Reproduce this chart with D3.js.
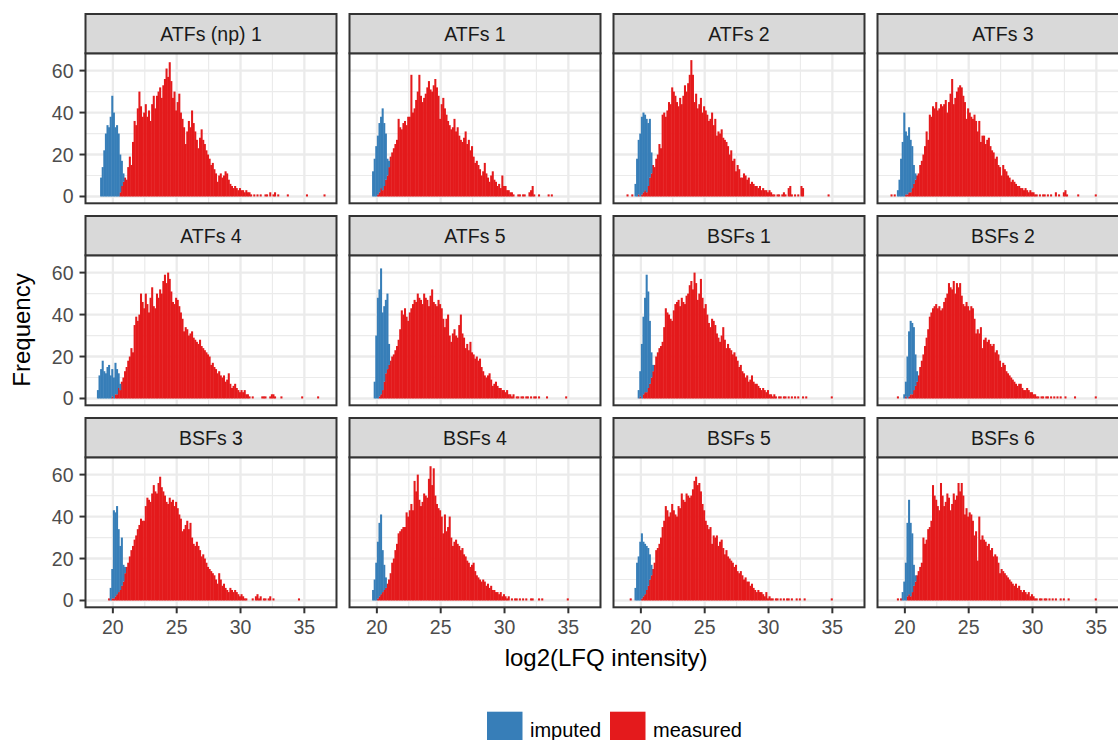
<!DOCTYPE html>
<html>
<head>
<meta charset="utf-8">
<script src="https://cdn.jsdelivr.net/npm/d3@7"></script>
<style>
  body { margin: 0; background: #fff; }
  svg { display: block; font-family: "Liberation Sans", Arial, sans-serif; }
</style>
</head>
<body>
<div id="chart"></div>
<script>
// histogram bins are 0.125 wide; each series lists counts from its own start value
const binWidth = 0.125;

const panelNames = ["ATFs (np) 1", "ATFs 1", "ATFs 2", "ATFs 3",
                    "ATFs 4", "ATFs 5", "BSFs 1", "BSFs 2",
                    "BSFs 3", "BSFs 4", "BSFs 5", "BSFs 6"];

const imputedStarts  = [19.0, 19.625, 19.5, 19.375, 18.75, 19.75, 19.75, 19.875, 19.75, 19.625, 19.5, 19.75];
const measuredStarts = [20.5, 20.0, 18.875, 18.875, 19.875, 20.125, 19.875, 19.375, 19.625, 20.0, 19.125, 19.375];

const imp01 = [9,14,22,30,34,33,38,48,40,33,34,30,18,12,4];
const imp02 = [12,18,24,28,33,34,39,30,22,8,3];
const imp03 = [6,18,26,30,37,38,36,35,30,28,10];
const imp04 = [3,8,18,26,40,30,28,31,25,20,9,3];
const imp05 = [4,11,14,18,13,12,15,16,11,13,10,15,12,7,3];
const imp06 = [8,30,48,51,60,37,36,35,36,10];
const imp07 = [4,12,26,37,45,56,46,30,12,3];
const imp08 = [2,7,20,31,35,34,30,15,5];
const imp09 = [6,14,42,40,42,30,21,23,8,3];
const imp10 = [5,10,18,27,35,38,20,12,5];
const imp11 = [6,18,21,28,31,26,24,21,18,12,5];
const imp12 = [4,9,18,35,45,35,28,10,3];

const meas01 = [2,5,7,9,8,14,19,15,26,36, 34,42,50,43,38,40,44,38,41,36, 44,48,42,48,50,52,47,53,56,61,
  57,64,55,47,50,41,45,49,40,37, 33,25,31,36,33,41,35,31,27,23, 28,32,27,25,22,20,18,15,16,13,
  11,7,10,11,9,10,12,11,8,6, 5,4,5,4,3,4,3,3,2,3, 2,2,1,0,1,0,1,0,1,0, 0,1,1,0,2,0,1,2,0,1,
  0,0,0,0,0,1,0,0,0,0, 0,0,0,0,0,0,0,1,0,0, 0,0,0,0,0,0,0,0,1];
const meas02 = [1,2,4,3,5,8,10,14,19,21, 23,25,27,37,33,32,35,36,34,38, 38,58,40,42,46,50,58,48,45,47,
  49,52,55,51,50,53,56,52,48,37, 44,47,42,39,36,34,32,33,37,31, 33,29,27,26,28,31,25,27,22,24,
  19,16,17,15,13,10,12,16,11,9, 7,10,12,8,7,5,6,4,10,5, 5,3,3,2,2,1,0,0,1,1,
  0,1,1,0,0,2,3,5,1,0, 0,1,0,0,0,0,0,1,0,1];
const meas03 = [1,0,0,1,0,0,0,1,0,1, 2,3,2,5,9,11,15,14,18,20, 25,23,39,40,38,41,45,44,52,50,
  48,45,43,47,44,48,53,50,54,58, 65,58,45,49,42,44,47,40,43,41, 39,36,37,40,34,37,29,31,30,32,
  28,27,26,24,20,22,17,18,12,15, 13,9,9,11,10,8,9,6,7,6, 5,5,4,5,3,4,3,3,2,3,
  2,1,1,0,1,1,0,1,2,1, 0,4,5,1,0,1,0,1,0,5, 4,0,0,0,0,0,0,0,0,0, 0,0,0,0,0,0,1];
const meas04 = [1,0,1,0,0,0,0,0,0,1, 1,2,2,4,6,8,10,11,15,17, 20,24,31,27,39,38,43,42,45,41,
  42,44,43,44,46,40,45,49,56,44, 47,50,52,53,52,48,45,37,42,40, 38,37,39,36,31,36,26,29,29,25,
  27,28,24,22,21,18,19,15,14,10, 15,13,12,10,9,7,8,7,6,5, 5,4,4,3,4,3,2,3,2,2,
  1,1,0,1,0,1,1,0,1,0, 1,0,0,2,0,1,0,0,2,3, 1,0,0,0,0,0,0,1,0,0, 0,0,0,0,0,0,0,0,1];
const meas05 = [1,0,2,2,5,4,8,10,13,15, 18,20,24,22,35,39,37,40,50,46, 43,50,45,41,48,53,44,43,50,48,
  52,50,56,59,55,60,57,51,46,45, 48,47,44,41,38,32,34,33,30,31, 32,29,28,27,26,28,25,24,23,22,
  21,20,16,17,15,14,12,13,11,10, 11,8,9,12,7,5,6,7,5,4, 3,4,3,4,2,2,1,0,1,0,
  0,0,0,0,1,1,1,0,0,1, 2,2,1,0,0,0,1,0,0,0, 0,0,0,0,0,0,0,0,0,1, 0,0,0,0,0,0,0,0,0,1];
const meas06 = [1,2,4,8,12,14,16,18,20,21, 23,25,28,33,42,40,43,39,37,41, 43,45,47,46,50,48,47,45,50,48,
  47,44,49,52,46,45,44,47,45,43, 38,34,38,40,30,27,31,33,30,29, 35,40,31,29,24,26,23,27,22,21,
  19,20,18,19,15,13,11,10,11,12, 9,6,7,8,6,5,5,4,4,3, 4,2,2,1,2,0,1,1,0,1,
  1,0,1,1,0,1,0,1,1,0, 1,0,0,0,0,1,0,0,0,0, 0,0,0,0,0,0,0,1];
const meas07 = [1,0,2,3,3,5,7,10,13,16, 20,22,24,25,27,34,43,41,40,38, 37,42,45,46,47,44,48,46,45,49,
  50,54,56,52,60,55,47,50,57,48, 43,45,40,36,34,38,37,35,31,29, 27,30,34,28,24,26,24,23,21,22,
  20,18,15,16,13,12,10,11,8,9, 11,8,7,7,6,5,4,5,4,3, 4,2,2,1,2,1,0,1,1,0,
  1,1,0,1,0,1,0,1,0,1, 0,0,1,0,1,0,0,0,0,0, 0,0,0,0,0,0,0,0,0,0, 1];
const meas08 = [1,0,0,0,0,1,0,1,2,2, 4,6,8,11,15,18,21,25,29,33, 39,41,43,44,45,43,44,42,43,46,
  48,50,55,53,52,56,50,55,53,55, 49,45,44,46,44,42,44,43,38,31, 33,31,34,24,28,29,27,28,26,25,
  26,22,23,21,18,15,17,16,13,12, 11,10,9,8,7,6,7,7,5,4, 4,5,4,3,3,2,2,1,1,0,
  1,1,0,1,1,0,1,0,1,0, 1,0,1,0,0,1,0,0,0,0, 0,1,0,0,0,0,0,0,0,0, 0,0,0,0,1];
const meas09 = [1,0,1,1,2,3,4,5,7,9, 13,16,18,21,24,26,29,31,34,36, 39,38,38,45,49,48,47,51,55,52,
  51,56,59,54,52,50,47,46,49,47, 48,45,47,44,41,39,33,34,36,38, 34,37,30,27,26,28,26,24,21,22,
  20,18,16,15,14,13,12,10,8,13, 10,7,8,6,5,4,6,5,4,5, 4,3,2,3,2,1,1,0,0,0,
  1,0,2,3,1,2,0,1,1,0, 1,2,0,1,0,0,0,0,0,0, 0,0,0,0,0,0,0,0,0,1];
const meas10 = [1,2,3,4,5,6,8,10,13,18, 20,24,27,32,33,34,35,35,42,40, 43,46,43,57,52,60,48,45,47,51,
  50,49,58,64,55,63,50,46,44,43, 40,32,41,33,35,40,30,26,28,29, 27,26,24,25,22,21,19,18,16,17,
  18,14,12,11,10,9,10,9,7,8, 6,7,5,5,4,4,3,4,2,3, 2,1,2,0,1,0,1,1,0,1,
  0,1,0,1,0,0,1,1,0,0, 0,1,0,1,0,0,0,0,0,0, 0,0,0,0,0,0,0,0,0,1];
const meas11 = [1,0,0,0,0,0,0,1,2,3, 5,7,10,12,15,18,24,25,27,30, 35,38,45,43,40,42,46,43,41,40,
  45,44,51,48,47,51,50,49,50,53, 57,59,55,56,52,46,43,38,36,34, 35,27,31,30,31,26,28,29,25,22,
  24,21,20,19,18,16,17,14,13,14, 12,10,11,9,9,7,8,6,5,4, 5,4,4,3,2,4,1,2,1,1,
  0,1,1,0,1,0,1,0,1,1, 0,1,0,0,1,0,1,0,0,1, 0,0,0,0,0,0,0,0,0,0, 0,0,0,0,0,0,1];
const meas12 = [1,0,1,0,0,0,2,3,2,4, 7,9,12,14,16,18,30,27,29,34, 35,38,55,50,48,45,43,56,50,45,
  47,51,49,43,46,51,48,50,56,52, 56,50,41,44,40,42,41,38,31,33, 19,40,29,31,29,28,26,27,24,25,
  21,22,21,18,13,15,14,13,12,11, 10,9,8,7,8,6,7,5,4,5, 4,3,4,2,3,2,1,1,0,1,
  1,0,1,1,0,1,0,1,0,1, 0,0,1,0,1,0,0,1,0,0, 0,0,0,0,0,0,0,0,0,0, 0,0,0,0,1];

const imputedCounts  = [imp01, imp02, imp03, imp04, imp05, imp06, imp07, imp08, imp09, imp10, imp11, imp12];
const measuredCounts = [meas01, meas02, meas03, meas04, meas05, meas06, meas07, meas08, meas09, meas10, meas11, meas12];

const xBreaks = [20, 25, 30, 35];
const yBreaks = [0, 20, 40, 60];
const legendLabels = ["imputed", "measured"];
const fillColours = { imputed: "#377EB8", measured: "#E41A1C" };

// ---- build stacked bins (measured at the bottom, imputed on top, like position = "stack")
const key = x => Math.round(x / binWidth);

const panels = panelNames.map(function (name, p) {
    const meas = new Map();
    measuredCounts[p].forEach(function (c, i) {
        meas.set(key(measuredStarts[p]) + i, c);
    });
    const bars = [];
    measuredCounts[p].forEach(function (c, i) {
        const x0 = measuredStarts[p] + i * binWidth;
        if (c > 0) bars.push({ group: "measured", x0: x0, y0: 0, y1: c });
    });
    imputedCounts[p].forEach(function (c, i) {
        const x0 = imputedStarts[p] + i * binWidth;
        const base = meas.get(key(x0)) || 0;
        if (c > 0) bars.push({ group: "imputed", x0: x0, y0: base, y1: base + c });
    });
    return { name: name, bars: bars };
});

const allBars = panels.flatMap(d => d.bars);
const xMin = d3.min(allBars, d => d.x0);
const xMax = d3.max(allBars, d => d.x0 + binWidth);
const yMax = d3.max(allBars, d => d.y1);
const xPad = (xMax - xMin) * 0.05;
const yPad = yMax * 0.05;

// ---- layout
const width = 1118, height = 740;
const panelLeft = 85.5, panelStep = 264, panelW = 251;
const rowTop = 53.3, rowStep = 202, panelH = 150, stripH = 39.3;
const lineW = 2;

const x = d3.scaleLinear().domain([xMin - xPad, xMax + xPad]).range([0, panelW]);
const y = d3.scaleLinear().domain([-yPad, yMax + yPad]).range([panelH, 0]);

const xMinor = [17.5, 22.5, 27.5, 32.5, 37.5].filter(v => v > x.domain()[0] && v < x.domain()[1]);
const yMinor = [-10, 10, 30, 50, 70].filter(v => v > y.domain()[0] && v < y.domain()[1]);

const svg = d3.select("#chart")
      .append("svg")
      .attr("width", width)
      .attr("height", height);

svg.append("rect").attr("width", width).attr("height", height).attr("fill", "#fff");

const panelG = svg.selectAll("g.panel")
      .data(panels)
      .enter()
      .append("g")
      .attr("class", "panel")
      .attr("transform", function (d, i) {
          return "translate(" + (panelLeft + (i % 4) * panelStep) + "," + (rowTop + Math.floor(i / 4) * rowStep) + ")";
      });

panelG.append("rect")
    .attr("width", panelW).attr("height", panelH)
    .attr("fill", "#fff");

// grid
panelG.each(function () {
    const g = d3.select(this);
    g.selectAll("line.xminor").data(xMinor).enter().append("line")
        .attr("x1", d => x(d)).attr("x2", d => x(d))
        .attr("y1", 0).attr("y2", panelH)
        .attr("stroke", "#EBEBEB").attr("stroke-width", 1.2);
    g.selectAll("line.yminor").data(yMinor).enter().append("line")
        .attr("x1", 0).attr("x2", panelW)
        .attr("y1", d => y(d)).attr("y2", d => y(d))
        .attr("stroke", "#EBEBEB").attr("stroke-width", 1.2);
    g.selectAll("line.xmajor").data(xBreaks).enter().append("line")
        .attr("x1", d => x(d)).attr("x2", d => x(d))
        .attr("y1", 0).attr("y2", panelH)
        .attr("stroke", "#EBEBEB").attr("stroke-width", 2.3);
    g.selectAll("line.ymajor").data(yBreaks).enter().append("line")
        .attr("x1", 0).attr("x2", panelW)
        .attr("y1", d => y(d)).attr("y2", d => y(d))
        .attr("stroke", "#EBEBEB").attr("stroke-width", 2.3);
});

// bars (a hair wider than the bin so neighbouring bars don't leave seams)
panelG.selectAll("rect.bar")
    .data(d => d.bars)
    .enter()
    .append("rect")
    .attr("class", "bar")
    .attr("x", d => x(d.x0))
    .attr("width", d => x(d.x0 + binWidth) - x(d.x0) + 0.45)
    .attr("y", d => y(d.y1))
    .attr("height", d => y(d.y0) - y(d.y1))
    .attr("fill", d => fillColours[d.group]);

// panel border
panelG.append("rect")
    .attr("width", panelW).attr("height", panelH)
    .attr("fill", "none")
    .attr("stroke", "#333333").attr("stroke-width", lineW);

// strips
panelG.append("rect")
    .attr("y", -stripH).attr("width", panelW).attr("height", stripH)
    .attr("fill", "#D9D9D9")
    .attr("stroke", "#333333").attr("stroke-width", lineW);

panelG.append("text")
    .attr("x", panelW / 2).attr("y", -stripH / 2)
    .attr("dy", "0.36em")
    .attr("text-anchor", "middle")
    .attr("font-size", "19.5px")
    .attr("fill", "#1A1A1A")
    .text(d => d.name);

// x axes on the bottom row
panelG.filter((d, i) => Math.floor(i / 4) === 2).each(function () {
    const g = d3.select(this);
    g.selectAll("line.xtick").data(xBreaks).enter().append("line")
        .attr("x1", d => x(d)).attr("x2", d => x(d))
        .attr("y1", panelH).attr("y2", panelH + 6)
        .attr("stroke", "#333333").attr("stroke-width", lineW);
    g.selectAll("text.xlab").data(xBreaks).enter().append("text")
        .attr("x", d => x(d)).attr("y", panelH + 26.5)
        .attr("text-anchor", "middle")
        .attr("font-size", "19.5px")
        .attr("fill", "#4D4D4D")
        .text(d => d);
});

// y axes on the left column
panelG.filter((d, i) => i % 4 === 0).each(function () {
    const g = d3.select(this);
    g.selectAll("line.ytick").data(yBreaks).enter().append("line")
        .attr("x1", -6).attr("x2", 0)
        .attr("y1", d => y(d)).attr("y2", d => y(d))
        .attr("stroke", "#333333").attr("stroke-width", lineW);
    g.selectAll("text.ylab").data(yBreaks).enter().append("text")
        .attr("x", -12).attr("y", d => y(d))
        .attr("dy", "0.36em")
        .attr("text-anchor", "end")
        .attr("font-size", "19.5px")
        .attr("fill", "#4D4D4D")
        .text(d => d);
});

// axis titles
svg.append("text")
    .attr("x", 606).attr("y", 666)
    .attr("text-anchor", "middle")
    .attr("font-size", "24px")
    .attr("fill", "#000")
    .text("log2(LFQ intensity)");

svg.append("text")
    .attr("transform", "translate(30,330) rotate(-90)")
    .attr("text-anchor", "middle")
    .attr("font-size", "24px")
    .attr("fill", "#000")
    .text("Frequency");

// legend
const legendX = [487, 610];
const legend = svg.selectAll("g.legend")
      .data(legendLabels)
      .enter()
      .append("g")
      .attr("class", "legend")
      .attr("transform", (d, i) => "translate(" + legendX[i] + ",711.7)");

legend.append("rect")
    .attr("width", 35.5).attr("height", 36)
    .attr("fill", d => fillColours[d]);

legend.append("text")
    .attr("x", 43).attr("y", 25)
    .attr("font-size", "20px")
    .attr("fill", "#000")
    .text(d => d);
</script>
</body>
</html>
